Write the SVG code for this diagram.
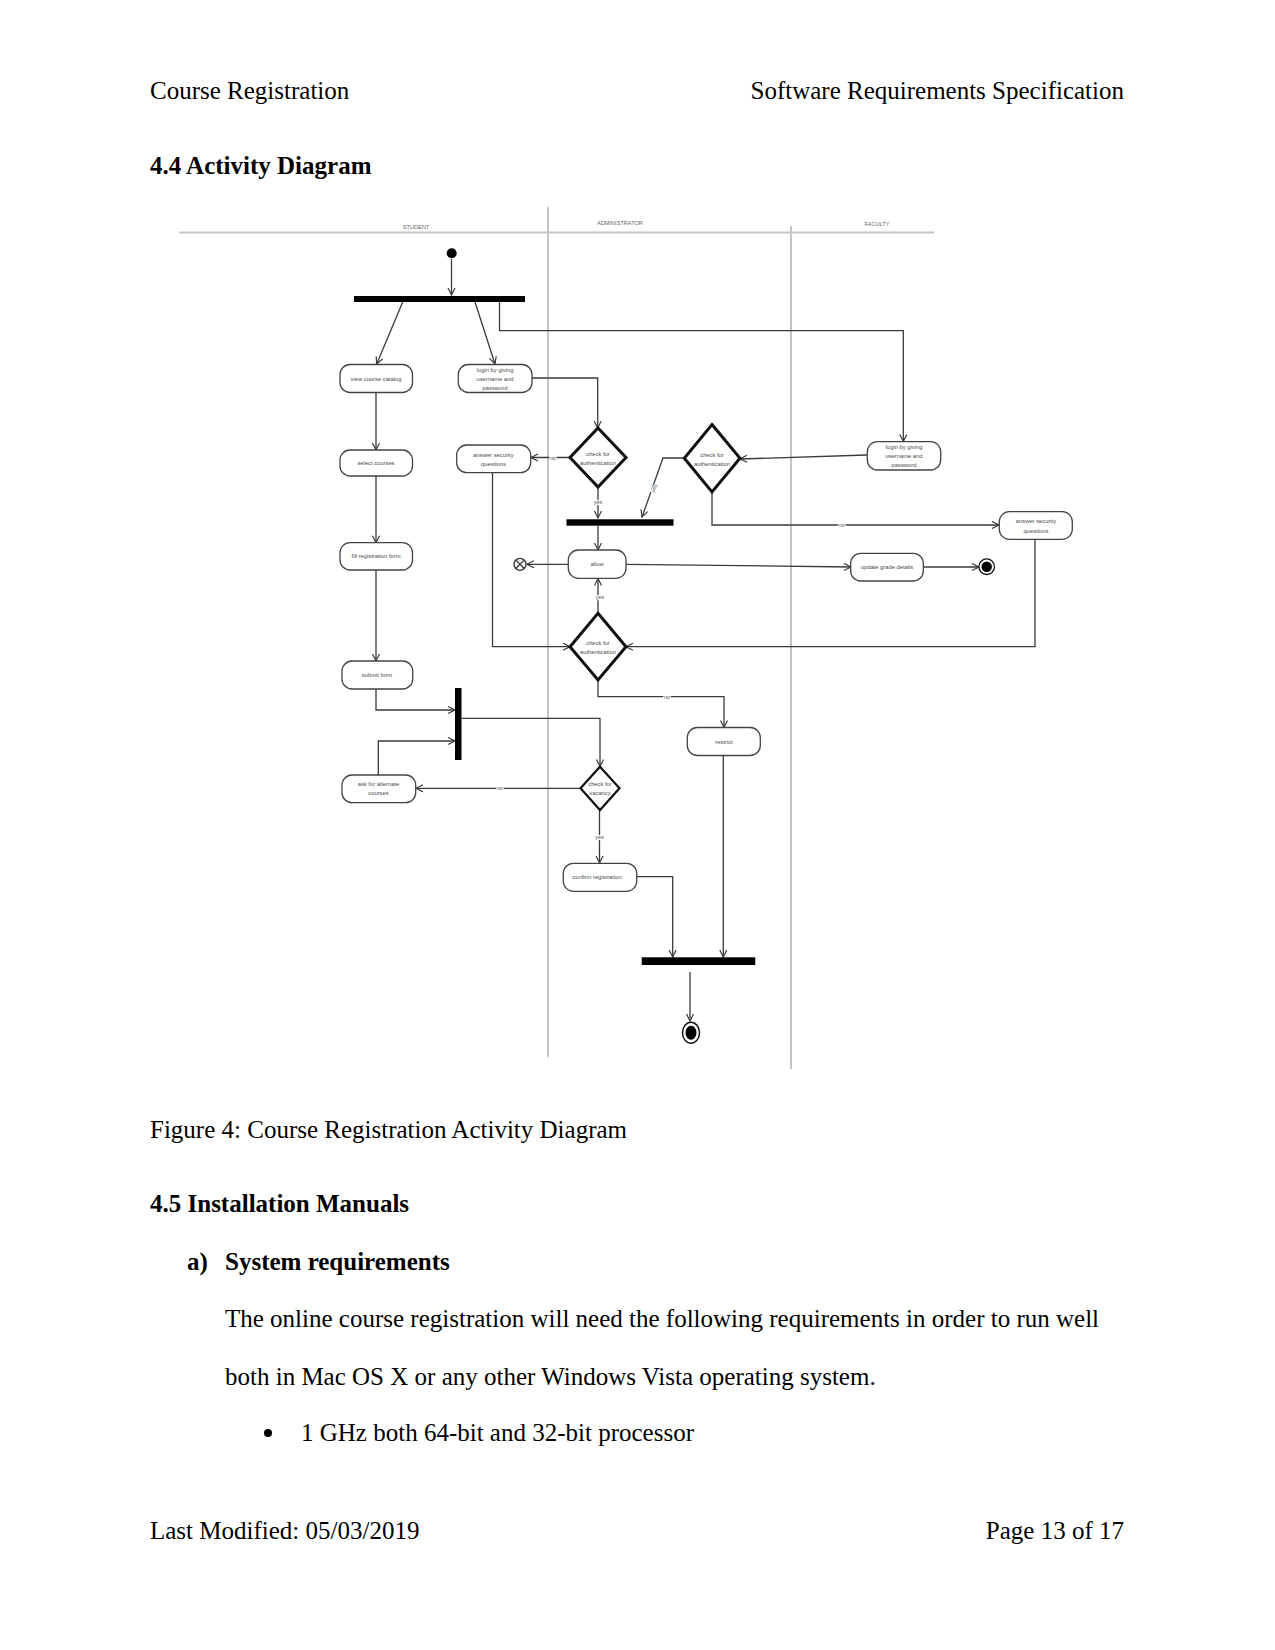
<svg xmlns="http://www.w3.org/2000/svg" width="1275" height="1650" viewBox="0 0 1275 1650">
<style>
.doc{font-family:"Liberation Serif","Times New Roman",serif;font-size:25px;fill:#000}
.b{font-weight:bold}
.lane{stroke:#c4c4c4;stroke-width:2;fill:none}
.lanet{font-family:"Liberation Sans",Arial,sans-serif;font-size:5.6px;fill:#666;text-anchor:middle}
.box{fill:#fff;stroke:#444;stroke-width:1.3}
.dia{fill:#fff;stroke:#111;stroke-width:3;stroke-linejoin:miter}
.nt{font-family:"Liberation Sans",Arial,sans-serif;font-size:5.8px;fill:#4a4a4a;text-anchor:middle}
.lbl{font-family:"Liberation Sans",Arial,sans-serif;font-size:5.4px;fill:#555;text-anchor:middle;stroke:#fff;stroke-width:2;paint-order:stroke}
.e{fill:none;stroke:#3a3a3a;stroke-width:1.3;marker-end:url(#ah)}
.bar{fill:#000}
</style>
<defs>
<marker id="ah" markerUnits="userSpaceOnUse" markerWidth="10" markerHeight="10" refX="8" refY="4" orient="auto">
<path d="M1,0.5 L8,4 L1,7.5" fill="none" stroke="#3a3a3a" stroke-width="1.2"/>
</marker>
</defs>
<rect width="1275" height="1650" fill="#fff"/>

<g id="page-text">
<text class="doc" x="150" y="99">Course Registration</text>
<text class="doc" x="1124" y="99" text-anchor="end">Software Requirements Specification</text>
<text class="doc b" x="150" y="174">4.4 Activity Diagram</text>
<text class="doc" x="150" y="1138">Figure 4: Course Registration Activity Diagram</text>
<text class="doc b" x="150" y="1212">4.5 Installation Manuals</text>
<text class="doc b" x="187" y="1270">a)</text>
<text class="doc b" x="225" y="1270">System requirements</text>
<text class="doc" x="225" y="1327">The online course registration will need the following requirements in order to run well</text>
<text class="doc" x="225" y="1385">both in Mac OS X or any other Windows Vista operating system.</text>
<circle cx="268" cy="1433" r="4" fill="#000"/>
<text class="doc" x="301" y="1441">1 GHz both 64-bit and 32-bit processor</text>
<text class="doc" x="150" y="1539">Last Modified: 05/03/2019</text>
<text class="doc" x="1124" y="1539" text-anchor="end">Page 13 of 17</text>
</g>

<g id="swimlanes">
<line class="lane" x1="179" y1="232.5" x2="934" y2="232.5"/>
<line class="lane" x1="548" y1="207" x2="548" y2="1057"/>
<line class="lane" x1="791" y1="226" x2="791" y2="1069"/>
<text class="lanet" x="416" y="229">STUDENT</text>
<text class="lanet" x="620" y="225">ADMINISTRATOR</text>
<text class="lanet" x="877" y="226">FACULTY</text>
</g>

<g id="connectors">
<path class="e" d="M451.5,259 V295"/>
<path class="e" d="M402.7,302 L376.7,364"/>
<path class="e" d="M475,302 L495,364"/>
<path class="e" d="M499.5,302 V330.7 H903.3 V441.5"/>
<path class="e" d="M532,378 H597.7 V428"/>
<path class="e" d="M570,457.5 H531"/>
<path class="e" d="M598,487 V518"/>
<path class="e" d="M684,458 H663 L642,517"/>
<path class="e" d="M598,526 V550"/>
<path class="e" d="M867,455 L740,459"/>
<path class="e" d="M712,492 V525 H999"/>
<path class="e" d="M568,564.3 H527"/>
<path class="e" d="M626,564.3 L851,567"/>
<path class="e" d="M923,567 H979"/>
<path class="e" d="M492.5,473 V646.7 H570"/>
<path class="e" d="M1035,539.5 V646.7 H626"/>
<path class="e" d="M598,613 V578.5"/>
<path class="e" d="M598,680 V696.7 H724 V727.5"/>
<path class="e" d="M376,393 V450"/>
<path class="e" d="M376,476 V542.7"/>
<path class="e" d="M376,570 V661"/>
<path class="e" d="M376,689 V710 H455"/>
<path class="e" d="M378.3,775 V741 H455"/>
<path class="e" d="M461.7,718.3 H600 V766.5"/>
<path class="e" d="M580,788.3 H416"/>
<path class="e" d="M599.5,810 V863"/>
<path class="e" d="M636.7,876.7 H672.7 V957"/>
<path class="e" d="M723.3,755.5 V957"/>
<path class="e" d="M690,972 V1021"/>
<text class="lbl" x="553" y="460">no</text>
<text class="lbl" x="598" y="503.5">yes</text>
<text class="lbl" x="654" y="490" transform="rotate(-60 654 488)">yes</text>
<text class="lbl" x="842" y="527">no</text>
<text class="lbl" x="600" y="599">yes</text>
<text class="lbl" x="667" y="699">no</text>
<text class="lbl" x="500" y="790">no</text>
<text class="lbl" x="599.5" y="839">yes</text>
</g>

<g id="initial"><circle cx="451.7" cy="253.3" r="5" fill="#000"/></g>
<g id="fork1"><rect class="bar" x="354" y="296" width="171" height="6"/></g>

<g id="view-catalog"><rect class="box" x="340" y="364.5" width="72.5" height="28" rx="10"/><text class="nt" x="376" y="380.5">view course catalog</text></g>
<g id="login-student"><rect class="box" x="458.3" y="364.5" width="73.7" height="28" rx="10"/>
<text class="nt" x="495" y="372">login by giving</text><text class="nt" x="495" y="380.5">username and</text><text class="nt" x="495" y="389.5">password</text></g>

<g id="select-courses"><rect class="box" x="340" y="450" width="72.5" height="26" rx="10"/><text class="nt" x="376" y="465">select courses</text></g>
<g id="answer-student"><rect class="box" x="456.7" y="445" width="74" height="27.7" rx="10"/>
<text class="nt" x="493.5" y="457.3">answer security</text><text class="nt" x="493.5" y="466.3">questions</text></g>

<g id="check-auth-1"><polygon class="dia" points="598,428 626,457.5 598,487 570,457.5"/>
<text class="nt" x="598" y="456">check for</text><text class="nt" x="598" y="464.5">authentication</text></g>

<g id="check-auth-2"><polygon class="dia" points="712,424.5 740,458.3 712,492 684.3,458.3"/>
<text class="nt" x="712" y="457">check for</text><text class="nt" x="712" y="465.5">authentication</text></g>

<g id="login-faculty"><rect class="box" x="867.3" y="441.7" width="73.4" height="28.3" rx="10"/>
<text class="nt" x="904" y="449">login by giving</text><text class="nt" x="904" y="457.5">username and</text><text class="nt" x="904" y="466.5">password</text></g>

<g id="join2"><rect class="bar" x="566.5" y="519.3" width="107" height="6.4"/></g>

<g id="answer-faculty"><rect class="box" x="999.3" y="511.7" width="73" height="27.6" rx="10"/>
<text class="nt" x="1036" y="522.5">answer security</text><text class="nt" x="1036" y="533">questions</text></g>

<g id="fill-form"><rect class="box" x="340" y="542.7" width="72.5" height="27.3" rx="10"/><text class="nt" x="376" y="558.3">fill registration form</text></g>

<g id="allow"><rect class="box" x="568.3" y="550" width="57.7" height="28.3" rx="10"/><text class="nt" x="597" y="566.3">allow</text></g>

<g id="flow-final"><circle cx="520" cy="564.3" r="6" fill="#fff" stroke="#333" stroke-width="1.3"/>
<path d="M515.8,560.1 L524.2,568.5 M524.2,560.1 L515.8,568.5" stroke="#333" stroke-width="1.3"/></g>

<g id="update-grade"><rect class="box" x="850.7" y="553.3" width="72.6" height="27.7" rx="10"/><text class="nt" x="887" y="569">update grade details</text></g>

<g id="final-1"><circle cx="986.7" cy="566.7" r="7.8" fill="#fff" stroke="#111" stroke-width="1.3"/><circle cx="986.7" cy="566.7" r="5.2" fill="#000"/></g>

<g id="check-auth-3"><polygon class="dia" points="598,613.3 626,646.7 598,680 570,646.7"/>
<text class="nt" x="598" y="645">check for</text><text class="nt" x="598" y="653.5">authentication</text></g>

<g id="submit-form"><rect class="box" x="342" y="661" width="70.7" height="28" rx="10"/><text class="nt" x="377" y="677">submit form</text></g>

<g id="join3"><rect class="bar" x="455" y="688" width="6.5" height="72"/></g>

<g id="restrict"><rect class="box" x="687.3" y="727.5" width="73" height="28" rx="10"/><text class="nt" x="724" y="743.5">restrict</text></g>

<g id="ask-alternate"><rect class="box" x="342" y="775" width="73.7" height="27.7" rx="10"/>
<text class="nt" x="378.5" y="786">ask for alternate</text><text class="nt" x="378.5" y="795">courses</text></g>

<g id="check-vacancy"><polygon class="dia" style="stroke-width:2.2" points="600,766.7 619.5,788.3 600,810 580.5,788.3"/>
<text class="nt" x="600" y="786">check for</text><text class="nt" x="600" y="795">vacancy</text></g>

<g id="confirm"><rect class="box" x="563.3" y="863.3" width="73.4" height="28" rx="10"/><text class="nt" x="597" y="879">confirm registration</text></g>

<g id="join4"><rect class="bar" x="641.7" y="957.3" width="113.6" height="7.7"/></g>

<g id="final-2"><ellipse cx="691" cy="1032.7" rx="8.5" ry="10.5" fill="#fff" stroke="#111" stroke-width="1.5"/><ellipse cx="691" cy="1032.7" rx="5.5" ry="7" fill="#000"/></g>
</svg>
